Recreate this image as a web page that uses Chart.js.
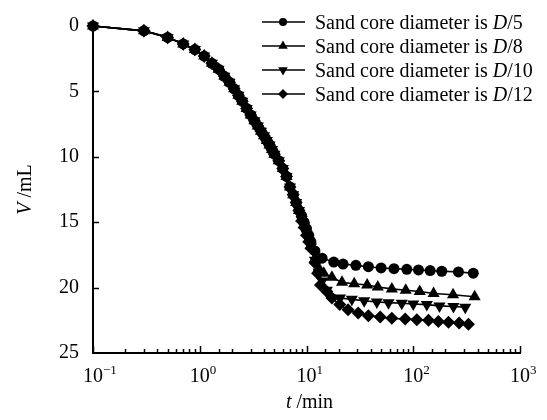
<!DOCTYPE html>
<html>
<head>
<meta charset="utf-8">
<script src="https://cdn.jsdelivr.net/npm/chart.js@4.4.1/dist/chart.umd.min.js"></script>
<style>
  body { margin: 0; background: #fff; }
  canvas { display: block; }
</style>
</head>
<body>
<canvas id="chart" width="547" height="420"></canvas>
<script>
// Flow volume V (mL) against time t (min), four sand core diameters

// shared early part of the curve (all series overlap here)
const tEarly = [0.1, 0.3, 0.5, 0.7, 0.9, 1.1, 1.3, 1.5, 1.7, 1.9, 2.1, 2.3, 2.5, 2.75, 3, 3.25, 3.5, 3.75, 4, 4.25, 4.5, 4.75, 5, 5.5, 6, 6.5, 7, 7.5, 8, 8.5];
const vEarly = [0, 0.37, 0.87, 1.37, 1.8, 2.3, 2.85, 3.3, 3.85, 4.3, 4.8, 5.3, 5.75, 6.3, 6.8, 7.25, 7.65, 8.05, 8.4, 8.75, 9.1, 9.45, 9.8, 10.3, 10.9, 11.5, 12.3, 12.9, 13.5, 14.1];

// per-series tails
const tD5 = [9, 9.5, 10, 10.5, 11, 12, 14, 18, 22, 29, 38, 50, 66, 87, 112, 144, 185, 265, 365];
const vD5 = [14.5, 15.0, 15.5, 16.0, 16.5, 17.2, 17.75, 18.05, 18.2, 18.3, 18.4, 18.5, 18.55, 18.6, 18.65, 18.7, 18.75, 18.8, 18.9];

const tD8 = [9, 9.5, 10, 10.5, 11, 12, 13, 14.5, 17.3, 21.5, 28, 37, 46.5, 63, 85, 115, 155, 236, 376];
const vD8 = [14.7, 15.2, 15.8, 16.3, 16.8, 17.8, 18.5, 18.9, 19.2, 19.6, 19.7, 19.8, 19.95, 20.1, 20.2, 20.3, 20.45, 20.55, 20.7];

const tD10 = [9, 9.5, 10, 10.5, 11, 12, 13, 14, 15.5, 20.6, 26.6, 34.7, 45.6, 58.6, 78, 100, 134, 176, 238, 307];
const vD10 = [14.8, 15.3, 15.9, 16.4, 16.9, 17.9, 18.8, 19.5, 20.2, 20.8, 20.9, 21.0, 21.1, 21.15, 21.2, 21.25, 21.3, 21.4, 21.45, 21.5];

const tD12 = [9, 9.5, 10, 10.5, 11, 12, 12.7, 13.5, 15.5, 17.3, 20.5, 24.5, 30.5, 38, 49, 63, 84, 108, 139, 172, 214, 269, 329];
const vD12 = [14.9, 15.4, 16.0, 16.5, 17.0, 18.1, 18.9, 19.8, 20.3, 20.8, 21.3, 21.7, 21.95, 22.15, 22.25, 22.35, 22.4, 22.45, 22.5, 22.6, 22.65, 22.7, 22.8];

const seriesNames = ['5', '8', '10', '12'];
const xTickLabels = ['\u22121', '0', '1', '2', '3']; // exponents of 10
const yTicks = [0, 5, 10, 15, 20, 25];

const SERIF = "'Liberation Serif', 'Times New Roman', serif";

function points(ts, vs) {
    return ts.map((t, i) => ({ x: t, y: vs[i] }));
}

const styles = [
    { pointStyle: 'circle', radius: 5.5, rotation: 0 },
    { pointStyle: 'triangle', radius: 7, rotation: 0 },
    { pointStyle: 'triangle', radius: 7, rotation: 180 },
    { pointStyle: 'rectRot', radius: 6.5, rotation: 0 }
];

const tails = [[tD5, vD5], [tD8, vD8], [tD10, vD10], [tD12, vD12]];

const datasets = tails.map((tail, i) => ({
    label: 'Sand core diameter is D/' + seriesNames[i],
    data: points(tEarly.concat(tail[0]), vEarly.concat(tail[1])),
    borderColor: '#000',
    backgroundColor: '#000',
    borderWidth: 1.6,
    pointStyle: styles[i].pointStyle,
    pointRadius: styles[i].radius,
    pointRotation: styles[i].rotation,
    pointBackgroundColor: '#000',
    pointBorderColor: '#000',
    pointBorderWidth: 0,
    tension: 0,
    clip: false
}));

// Draw inward ticks, superscript x labels, axis titles and legend
const decorPlugin = {
    id: 'decor',
    afterDraw(chart) {
        const ctx = chart.ctx;
        const xs = chart.scales.x;
        const ys = chart.scales.y;
        const area = chart.chartArea;
        ctx.save();
        ctx.strokeStyle = '#000';
        ctx.fillStyle = '#000';
        ctx.lineWidth = 1.5;

        // x ticks (inward)
        xs.ticks.forEach(tk => {
            const px = Math.round(xs.getPixelForValue(tk.value)) + 0.5;
            const lg = Math.log10(tk.value);
            const major = Math.abs(lg - Math.round(lg)) < 1e-6;
            const len = major ? 7 : 4;
            ctx.beginPath();
            ctx.moveTo(px, area.bottom);
            ctx.lineTo(px, area.bottom - len);
            ctx.stroke();
        });

        // y ticks (inward)
        yTicks.forEach(v => {
            if (v === 0 || v === 25) return;
            const py = Math.round(ys.getPixelForValue(v)) + 0.5;
            ctx.beginPath();
            ctx.moveTo(area.left, py);
            ctx.lineTo(area.left + 6, py);
            ctx.stroke();
        });

        // x labels 10^n
        ctx.textBaseline = 'alphabetic';
        ctx.textAlign = 'left';
        xTickLabels.forEach((ex, i) => {
            const px = xs.getPixelForValue(Math.pow(10, i - 1));
            ctx.font = '20px ' + SERIF;
            const w1 = ctx.measureText('10').width;
            ctx.fillText('10', px - w1 / 2, 382);
            ctx.font = '13px ' + SERIF;
            ctx.fillText(ex, px + w1 / 2, 374);
        });

        // x title: t /min
        const cx = (area.left + area.right) / 2 + 3;
        ctx.font = 'italic 20px ' + SERIF;
        const wt = ctx.measureText('t').width;
        ctx.font = '20px ' + SERIF;
        const wm = ctx.measureText(' /min').width;
        let sx = cx - (wt + wm) / 2;
        ctx.font = 'italic 20px ' + SERIF;
        ctx.fillText('t', sx, 408);
        ctx.font = '20px ' + SERIF;
        ctx.fillText(' /min', sx + wt, 408);

        // y title: V /mL (rotated)
        ctx.save();
        ctx.translate(31, (area.top + area.bottom) / 2);
        ctx.rotate(-Math.PI / 2);
        ctx.font = 'italic 20px ' + SERIF;
        const wv = ctx.measureText('V').width;
        ctx.font = '20px ' + SERIF;
        const wu = ctx.measureText(' /mL').width;
        sx = -(wv + wu) / 2;
        ctx.font = 'italic 20px ' + SERIF;
        ctx.fillText('V', sx, 0);
        ctx.font = '20px ' + SERIF;
        ctx.fillText(' /mL', sx + wv, 0);
        ctx.restore();

        // legend
        chart.data.datasets.forEach((ds, i) => {
            const y = 22 + 24 * i;
            ctx.lineWidth = 1.6;
            ctx.beginPath();
            ctx.moveTo(262, y);
            ctx.lineTo(305, y);
            ctx.stroke();
            Chart.helpers.drawPoint(ctx, {
                pointStyle: styles[i].pointStyle,
                radius: styles[i].radius - 1.5,
                rotation: styles[i].rotation,
                borderWidth: 0
            }, 283, y);
            let tx = 315;
            const base = y + 7;
            ctx.font = '20px ' + SERIF;
            const pre = 'Sand core diameter is ';
            ctx.fillText(pre, tx, base);
            tx += ctx.measureText(pre).width;
            ctx.font = 'italic 20px ' + SERIF;
            ctx.fillText('D', tx, base);
            tx += ctx.measureText('D').width;
            ctx.font = '20px ' + SERIF;
            ctx.fillText('/' + seriesNames[i], tx, base);
        });

        ctx.restore();
    }
};

new Chart(document.getElementById('chart'), {
    type: 'line',
    data: { datasets: datasets },
    options: {
        responsive: false,
        animation: false,
        devicePixelRatio: 1,
        layout: { padding: { left: 0, top: 19, right: 27, bottom: 0 } },
        plugins: {
            legend: { display: false },
            tooltip: { enabled: false }
        },
        scales: {
            x: {
                type: 'logarithmic',
                min: 0.1,
                max: 1000,
                grid: { display: false, drawTicks: false },
                border: { display: true, color: '#000', width: 2 },
                ticks: { display: false },
                afterFit: s => { s.height = 67; }
            },
            y: {
                type: 'linear',
                reverse: true,
                min: 0,
                max: 25,
                grid: { display: false, drawTicks: false },
                border: { display: true, color: '#000', width: 2 },
                ticks: {
                    stepSize: 5,
                    padding: 14,
                    color: '#000',
                    font: { family: SERIF, size: 20 }
                },
                afterFit: s => { s.width = 93; }
            }
        }
    },
    plugins: [decorPlugin]
});
</script>
</body>
</html>
